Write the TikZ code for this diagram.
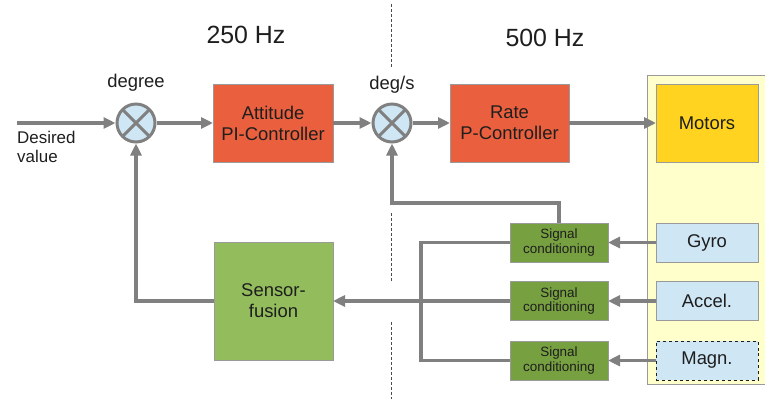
\documentclass[tikz,border=0pt]{standalone}
\usepackage{fontspec}
\setmainfont{Liberation Sans}
\usepackage{tikz}
\usetikzlibrary{arrows.meta,positioning,calc}
\definecolor{linegray}{HTML}{808080}
\definecolor{boxgray}{HTML}{9A9A9A}
\definecolor{ctrlred}{HTML}{EA603E}
\definecolor{motoryellow}{HTML}{FFD320}
\definecolor{panelyellow}{HTML}{FFFFCC}
\definecolor{sensblue}{HTML}{CFE7F5}
\definecolor{siggreen}{HTML}{77A041}
\definecolor{fusgreen}{HTML}{93BD5C}
\definecolor{textgray}{HTML}{1E1E1E}

\begin{document}
\begin{tikzpicture}[x=1bp,y=-1bp,font=\fontsize{18.5}{21}\selectfont,
  block/.style={draw=boxgray,line width=.8bp,inner sep=0pt,outer sep=0pt,align=center,text=textgray},
  sumnode/.style={circle,draw=linegray,line width=3bp,fill=sensblue,minimum size=38bp,inner sep=0pt,
    path picture={\draw[linegray,line width=3bp] (path picture bounding box.north west)--(path picture bounding box.south east)
      (path picture bounding box.north east)--(path picture bounding box.south west);}},
  sigbox/.style={block,fill=siggreen,minimum width=98bp,minimum height=39bp,font=\fontsize{13.5}{14.5}\selectfont},
  sensbox/.style={block,fill=sensblue,minimum width=102bp,minimum height=39bp},
  conn/.style={linegray,line width=3.5bp},
  arr/.style={conn,-{Triangle[length=12bp,width=11bp]}}]
  \useasboundingbox (0,0) rectangle (765,399);
  \fill[panelyellow] (647,75) rectangle (770,384);
  \draw[boxgray,line width=.8bp] (770,75) -- (647,75) -- (647,384) -- (770,384);
  \foreach \ya/\yb in {4/67,213/282,322/399}
    \draw[textgray!80,densely dashed,line width=.6bp] (391,\ya) -- (391,\yb);
  \node[textgray,font=\fontsize{25}{28}\selectfont] (f250) at (246,35) {250 Hz};
  \node[textgray,font=\fontsize{25}{28}\selectfont] (f500) at (545,38) {500 Hz};
  \node[sumnode] (sum1) at (136,123) {};
  \node[sumnode] (sum2) at (392,123) {};
  \node[textgray] (lbl1) at (136,83) {degree};
  \node[textgray] (lbl2) at (392,85) {deg/s};
  \node[block,fill=ctrlred,minimum width=120bp,minimum height=78bp] (att) at (273,123) {Attitude\\PI-Controller};
  \node[block,fill=ctrlred,minimum width=119bp,minimum height=78bp] (rate) at (509.5,123) {Rate\\P-Controller};
  \node[block,fill=motoryellow,minimum width=102bp,minimum height=78bp] (mot) at (707,123) {Motors};
  \node[block,fill=fusgreen,minimum width=119bp,minimum height=118bp] (fus) at (273.5,301) {Sensor-\\fusion};
  \foreach \n/\y in {1/242.5,2/301,3/360.5}
    \node[sigbox] (sig\n) at (559,\y) {Signal\\conditioning};
  \node[sensbox] (gyro) at (707,242.5) {Gyro};
  \node[sensbox] (accel) at (707,301) {Accel.};
  \node[sensbox,dashed,draw=textgray] (magn) at (707,360.5) {Magn.};
  \coordinate (in) at (17,123);
  \node[textgray,anchor=north west,align=left,inner sep=0pt,font=\fontsize{17}{19}\selectfont] (desc) at (17,131) {Desired\\value};
  \coordinate (fb) at (392,203);
  \coordinate (bus) at (421,301);
  \draw[arr] (in) -- (sum1);
  \draw[arr] (sum1) -- (att);
  \draw[arr] (att) -- (sum2);
  \draw[arr] (sum2) -- (rate);
  \draw[arr] (rate) -- (mot);
  \draw[arr] (sig1.north) |- (fb) -- (sum2.south);
  \draw[arr] (gyro) -- (sig1);
  \draw[arr] (accel) -- (sig2);
  \draw[arr] (magn) -- (sig3);
  \draw[conn] (sig1.west) -| (bus) |- (sig3.west);
  \draw[arr] (sig2.west) -- (fus.east);
  \draw[arr] (fus.west) -| (sum1.south);
\end{tikzpicture}
\end{document}
